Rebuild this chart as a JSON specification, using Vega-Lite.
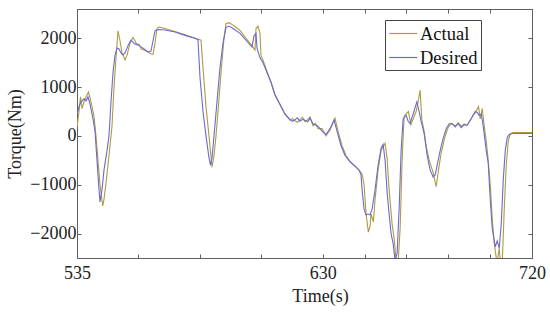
{
  "$schema": "https://vega.github.io/schema/vega-lite/v6.json",
  "width": 455,
  "height": 249,
  "autosize": {"type": "none"},
  "padding": {"left": 77, "top": 9, "right": 18, "bottom": 54},
  "background": "white",
  "config": {
    "view": {"stroke": "#5f5f5f", "strokeWidth": 1},
    "font": "Liberation Serif",
    "axis": {
      "grid": false,
      "domainColor": "#5f5f5f",
      "tickColor": "#5f5f5f",
      "labelFont": "Liberation Serif",
      "labelFontSize": 18,
      "labelColor": "#222222",
      "titleFont": "Liberation Serif",
      "titleFontSize": 18,
      "titleFontWeight": "normal",
      "titleColor": "#222222",
      "tickSize": -4
    }
  },
  "data": {"values": [
    {"s":"Actual","t":535.0,"v":180},{"s":"Actual","t":535.77,"v":500},{"s":"Actual","t":536.35,"v":800},{"s":"Actual","t":536.93,"v":560},{"s":"Actual","t":537.71,"v":700},{"s":"Actual","t":538.48,"v":800},{"s":"Actual","t":539.45,"v":900},{"s":"Actual","t":540.03,"v":780},{"s":"Actual","t":540.8,"v":600},{"s":"Actual","t":541.57,"v":400},{"s":"Actual","t":542.35,"v":0},{"s":"Actual","t":543.12,"v":-500},{"s":"Actual","t":543.89,"v":-1000},{"s":"Actual","t":544.94,"v":-1435},{"s":"Actual","t":545.44,"v":-1300},{"s":"Actual","t":546.48,"v":-840},{"s":"Actual","t":547.37,"v":-400},{"s":"Actual","t":548.15,"v":0},{"s":"Actual","t":548.53,"v":200},{"s":"Actual","t":549.31,"v":1000},{"s":"Actual","t":550.08,"v":1600},{"s":"Actual","t":550.85,"v":2150},{"s":"Actual","t":551.63,"v":1950},{"s":"Actual","t":552.4,"v":1700},{"s":"Actual","t":553.56,"v":1560},{"s":"Actual","t":554.33,"v":1650},{"s":"Actual","t":555.49,"v":1900},{"s":"Actual","t":556.65,"v":2020},{"s":"Actual","t":557.43,"v":1950},{"s":"Actual","t":558.2,"v":1860},{"s":"Actual","t":558.97,"v":1880},{"s":"Actual","t":559.75,"v":1780},{"s":"Actual","t":560.91,"v":1760},{"s":"Actual","t":562.45,"v":1720},{"s":"Actual","t":563.61,"v":1680},{"s":"Actual","t":564.39,"v":1670},{"s":"Actual","t":565.16,"v":1900},{"s":"Actual","t":565.93,"v":2200},{"s":"Actual","t":566.71,"v":2230},{"s":"Actual","t":569.03,"v":2200},{"s":"Actual","t":572.89,"v":2140},{"s":"Actual","t":576.76,"v":2070},{"s":"Actual","t":580.62,"v":2000},{"s":"Actual","t":582.94,"v":1960},{"s":"Actual","t":583.72,"v":1400},{"s":"Actual","t":584.88,"v":600},{"s":"Actual","t":586.04,"v":0},{"s":"Actual","t":587.2,"v":-640},{"s":"Actual","t":587.97,"v":-400},{"s":"Actual","t":588.74,"v":0},{"s":"Actual","t":589.52,"v":500},{"s":"Actual","t":590.68,"v":1300},{"s":"Actual","t":591.84,"v":2000},{"s":"Actual","t":592.61,"v":2300},{"s":"Actual","t":593.77,"v":2320},{"s":"Actual","t":595.32,"v":2270},{"s":"Actual","t":598.02,"v":2160},{"s":"Actual","t":600.34,"v":2000},{"s":"Actual","t":602.66,"v":1850},{"s":"Actual","t":603.82,"v":1760},{"s":"Actual","t":604.21,"v":2200},{"s":"Actual","t":604.98,"v":2250},{"s":"Actual","t":605.76,"v":2100},{"s":"Actual","t":606.14,"v":1650},{"s":"Actual","t":606.92,"v":1550},{"s":"Actual","t":608.46,"v":1320},{"s":"Actual","t":610.01,"v":1100},{"s":"Actual","t":611.56,"v":830},{"s":"Actual","t":613.49,"v":640},{"s":"Actual","t":615.42,"v":440},{"s":"Actual","t":617.36,"v":320},{"s":"Actual","t":618.3,"v":360},{"s":"Actual","t":619.29,"v":310},{"s":"Actual","t":620.3,"v":280},{"s":"Actual","t":621.22,"v":340},{"s":"Actual","t":622.2,"v":380},{"s":"Actual","t":623.16,"v":290},{"s":"Actual","t":624.1,"v":330},{"s":"Actual","t":625.09,"v":390},{"s":"Actual","t":626.25,"v":210},{"s":"Actual","t":627.2,"v":260},{"s":"Actual","t":628.18,"v":150},{"s":"Actual","t":629.73,"v":150},{"s":"Actual","t":631.42,"v":0},{"s":"Actual","t":633.14,"v":120},{"s":"Actual","t":635.3,"v":360},{"s":"Actual","t":636.59,"v":100},{"s":"Actual","t":638.31,"v":-200},{"s":"Actual","t":640.03,"v":-400},{"s":"Actual","t":641.76,"v":-520},{"s":"Actual","t":643.91,"v":-620},{"s":"Actual","t":645.63,"v":-700},{"s":"Actual","t":646.92,"v":-780},{"s":"Actual","t":647.79,"v":-1000},{"s":"Actual","t":648.65,"v":-1600},{"s":"Actual","t":649.64,"v":-1970},{"s":"Actual","t":650.37,"v":-1850},{"s":"Actual","t":650.8,"v":-1600},{"s":"Actual","t":651.79,"v":-1760},{"s":"Actual","t":652.52,"v":-1300},{"s":"Actual","t":653.81,"v":-700},{"s":"Actual","t":655.11,"v":-300},{"s":"Actual","t":656.83,"v":-150},{"s":"Actual","t":657.69,"v":-450},{"s":"Actual","t":658.55,"v":-1100},{"s":"Actual","t":659.84,"v":-1800},{"s":"Actual","t":660.7,"v":-2100},{"s":"Actual","t":661.56,"v":-2550},{"s":"Actual","t":662.43,"v":-2600},{"s":"Actual","t":663.29,"v":-1900},{"s":"Actual","t":664.15,"v":-500},{"s":"Actual","t":665.01,"v":400},{"s":"Actual","t":665.87,"v":450},{"s":"Actual","t":666.86,"v":500},{"s":"Actual","t":667.9,"v":230},{"s":"Actual","t":668.89,"v":350},{"s":"Actual","t":670.18,"v":500},{"s":"Actual","t":671.04,"v":700},{"s":"Actual","t":671.9,"v":940},{"s":"Actual","t":672.63,"v":330},{"s":"Actual","t":673.62,"v":100},{"s":"Actual","t":674.48,"v":-200},{"s":"Actual","t":675.78,"v":-500},{"s":"Actual","t":677.5,"v":-750},{"s":"Actual","t":678.79,"v":-1040},{"s":"Actual","t":679.78,"v":-700},{"s":"Actual","t":680.94,"v":-350},{"s":"Actual","t":682.67,"v":0},{"s":"Actual","t":684.09,"v":190},{"s":"Actual","t":685.55,"v":260},{"s":"Actual","t":686.97,"v":180},{"s":"Actual","t":688.26,"v":270},{"s":"Actual","t":689.56,"v":200},{"s":"Actual","t":690.85,"v":240},{"s":"Actual","t":692.14,"v":220},{"s":"Actual","t":693.43,"v":320},{"s":"Actual","t":694.72,"v":430},{"s":"Actual","t":695.58,"v":470},{"s":"Actual","t":697.01,"v":600},{"s":"Actual","t":697.74,"v":350},{"s":"Actual","t":698.6,"v":560},{"s":"Actual","t":699.46,"v":200},{"s":"Actual","t":700.32,"v":-100},{"s":"Actual","t":701.18,"v":-500},{"s":"Actual","t":702.05,"v":-1000},{"s":"Actual","t":702.91,"v":-1700},{"s":"Actual","t":703.77,"v":-2200},{"s":"Actual","t":704.93,"v":-2600},{"s":"Actual","t":705.92,"v":-2300},{"s":"Actual","t":706.35,"v":-2550},{"s":"Actual","t":707.21,"v":-2600},{"s":"Actual","t":708.07,"v":-1500},{"s":"Actual","t":708.93,"v":-600},{"s":"Actual","t":709.8,"v":-100},{"s":"Actual","t":710.66,"v":40},{"s":"Actual","t":711.95,"v":70},{"s":"Actual","t":714.96,"v":70},{"s":"Actual","t":720,"v":70},
    {"s":"Desired","t":535.0,"v":430},{"s":"Desired","t":535.77,"v":600},{"s":"Desired","t":536.55,"v":700},{"s":"Desired","t":537.71,"v":760},{"s":"Desired","t":538.48,"v":720},{"s":"Desired","t":539.25,"v":800},{"s":"Desired","t":540.03,"v":650},{"s":"Desired","t":541.19,"v":350},{"s":"Desired","t":541.96,"v":100},{"s":"Desired","t":542.73,"v":-500},{"s":"Desired","t":543.51,"v":-1100},{"s":"Desired","t":543.89,"v":-1350},{"s":"Desired","t":544.67,"v":-1100},{"s":"Desired","t":545.44,"v":-700},{"s":"Desired","t":546.6,"v":-300},{"s":"Desired","t":547.37,"v":0},{"s":"Desired","t":548.15,"v":700},{"s":"Desired","t":548.92,"v":1300},{"s":"Desired","t":549.69,"v":1650},{"s":"Desired","t":550.47,"v":1800},{"s":"Desired","t":551.24,"v":1780},{"s":"Desired","t":552.01,"v":1700},{"s":"Desired","t":552.79,"v":1660},{"s":"Desired","t":553.56,"v":1700},{"s":"Desired","t":554.72,"v":1850},{"s":"Desired","t":555.88,"v":1960},{"s":"Desired","t":556.65,"v":1920},{"s":"Desired","t":557.43,"v":1880},{"s":"Desired","t":558.2,"v":1880},{"s":"Desired","t":559.36,"v":1840},{"s":"Desired","t":560.91,"v":1780},{"s":"Desired","t":562.45,"v":1720},{"s":"Desired","t":563.61,"v":1740},{"s":"Desired","t":564.39,"v":1950},{"s":"Desired","t":565.16,"v":2150},{"s":"Desired","t":566.32,"v":2180},{"s":"Desired","t":569.03,"v":2170},{"s":"Desired","t":572.89,"v":2130},{"s":"Desired","t":576.76,"v":2060},{"s":"Desired","t":580.62,"v":2000},{"s":"Desired","t":581.78,"v":1970},{"s":"Desired","t":582.56,"v":1200},{"s":"Desired","t":583.72,"v":500},{"s":"Desired","t":584.88,"v":0},{"s":"Desired","t":586.04,"v":-450},{"s":"Desired","t":586.62,"v":-600},{"s":"Desired","t":587.2,"v":-450},{"s":"Desired","t":587.97,"v":0},{"s":"Desired","t":589.13,"v":700},{"s":"Desired","t":590.29,"v":1400},{"s":"Desired","t":591.45,"v":1900},{"s":"Desired","t":592.61,"v":2220},{"s":"Desired","t":593.77,"v":2250},{"s":"Desired","t":595.32,"v":2200},{"s":"Desired","t":598.02,"v":2100},{"s":"Desired","t":600.34,"v":1960},{"s":"Desired","t":602.66,"v":1820},{"s":"Desired","t":603.44,"v":2050},{"s":"Desired","t":604.21,"v":2100},{"s":"Desired","t":604.6,"v":1800},{"s":"Desired","t":605.76,"v":1600},{"s":"Desired","t":606.92,"v":1500},{"s":"Desired","t":608.46,"v":1300},{"s":"Desired","t":610.01,"v":1100},{"s":"Desired","t":611.56,"v":850},{"s":"Desired","t":613.49,"v":650},{"s":"Desired","t":615.42,"v":450},{"s":"Desired","t":617.36,"v":340},{"s":"Desired","t":618.4,"v":300},{"s":"Desired","t":619.29,"v":330},{"s":"Desired","t":620.2,"v":370},{"s":"Desired","t":621.22,"v":300},{"s":"Desired","t":622.3,"v":340},{"s":"Desired","t":623.16,"v":320},{"s":"Desired","t":624.2,"v":290},{"s":"Desired","t":625.09,"v":360},{"s":"Desired","t":626.25,"v":250},{"s":"Desired","t":627.3,"v":220},{"s":"Desired","t":628.18,"v":200},{"s":"Desired","t":629.73,"v":100},{"s":"Desired","t":631.42,"v":30},{"s":"Desired","t":633.14,"v":150},{"s":"Desired","t":634.87,"v":330},{"s":"Desired","t":636.16,"v":100},{"s":"Desired","t":637.88,"v":-200},{"s":"Desired","t":639.6,"v":-400},{"s":"Desired","t":641.76,"v":-530},{"s":"Desired","t":643.91,"v":-620},{"s":"Desired","t":645.63,"v":-700},{"s":"Desired","t":646.49,"v":-800},{"s":"Desired","t":646.92,"v":-1100},{"s":"Desired","t":647.79,"v":-1500},{"s":"Desired","t":648.65,"v":-1620},{"s":"Desired","t":649.51,"v":-1600},{"s":"Desired","t":650.37,"v":-1620},{"s":"Desired","t":651.23,"v":-1500},{"s":"Desired","t":652.52,"v":-1100},{"s":"Desired","t":653.81,"v":-600},{"s":"Desired","t":655.11,"v":-250},{"s":"Desired","t":655.97,"v":-170},{"s":"Desired","t":656.83,"v":-500},{"s":"Desired","t":657.69,"v":-1150},{"s":"Desired","t":658.55,"v":-1600},{"s":"Desired","t":659.41,"v":-2000},{"s":"Desired","t":660.27,"v":-2200},{"s":"Desired","t":661.13,"v":-2550},{"s":"Desired","t":662.0,"v":-2400},{"s":"Desired","t":662.86,"v":-1500},{"s":"Desired","t":663.72,"v":-300},{"s":"Desired","t":664.58,"v":350},{"s":"Desired","t":665.87,"v":420},{"s":"Desired","t":666.73,"v":300},{"s":"Desired","t":667.59,"v":250},{"s":"Desired","t":668.89,"v":450},{"s":"Desired","t":670.48,"v":700},{"s":"Desired","t":671.47,"v":500},{"s":"Desired","t":672.33,"v":300},{"s":"Desired","t":673.62,"v":50},{"s":"Desired","t":674.91,"v":-400},{"s":"Desired","t":676.21,"v":-700},{"s":"Desired","t":677.5,"v":-840},{"s":"Desired","t":678.36,"v":-800},{"s":"Desired","t":679.22,"v":-600},{"s":"Desired","t":680.51,"v":-300},{"s":"Desired","t":681.8,"v":-50},{"s":"Desired","t":683.1,"v":150},{"s":"Desired","t":684.39,"v":250},{"s":"Desired","t":685.68,"v":250},{"s":"Desired","t":686.97,"v":200},{"s":"Desired","t":688.26,"v":250},{"s":"Desired","t":689.56,"v":170},{"s":"Desired","t":690.85,"v":230},{"s":"Desired","t":692.14,"v":220},{"s":"Desired","t":693.43,"v":320},{"s":"Desired","t":694.72,"v":420},{"s":"Desired","t":695.58,"v":500},{"s":"Desired","t":696.45,"v":480},{"s":"Desired","t":697.31,"v":420},{"s":"Desired","t":698.17,"v":450},{"s":"Desired","t":699.03,"v":200},{"s":"Desired","t":700.32,"v":-300},{"s":"Desired","t":701.18,"v":-560},{"s":"Desired","t":702.05,"v":-1300},{"s":"Desired","t":702.91,"v":-1900},{"s":"Desired","t":703.77,"v":-2150},{"s":"Desired","t":704.2,"v":-2270},{"s":"Desired","t":705.06,"v":-2150},{"s":"Desired","t":705.92,"v":-2300},{"s":"Desired","t":706.78,"v":-1800},{"s":"Desired","t":707.64,"v":-900},{"s":"Desired","t":708.5,"v":-300},{"s":"Desired","t":709.36,"v":-30},{"s":"Desired","t":710.23,"v":30},{"s":"Desired","t":711.52,"v":50},{"s":"Desired","t":714.96,"v":50},{"s":"Desired","t":720,"v":50}
  ]},
  "layer": [
    {
      "mark": {"type": "line", "strokeWidth": 1.1, "clip": true},
      "encoding": {
        "x": {
          "field": "t", "type": "quantitative",
          "scale": {"domain": [535, 630, 720], "range": [0, 245.7, 455], "nice": false, "zero": false},
          "axis": {
            "orient": "bottom",
            "values": [535, 558.75, 582.5, 606.25, 630, 648, 666, 684, 702, 720],
            "format": "d",
            "labelExpr": "(datum.value == 535 || datum.value == 630 || datum.value == 720) ? datum.label : ''",
            "labelFlush": false,
            "labelOverlap": false,
            "labelPadding": 10,
            "title": "Time(s)",
            "titleX": 243,
            "titleY": 43,
            "titleBaseline": "alphabetic"
          }
        },
        "y": {
          "field": "v", "type": "quantitative",
          "scale": {"domain": [-2500, 2600], "nice": false, "zero": false},
          "axis": {
            "orient": "left",
            "values": [-2000, -1000, 0, 1000, 2000],
            "format": "d",
            "labelPadding": 5,
            "title": "Torque(Nm)",
            "titleX": -57,
            "titleY": 124.5,
            "titleBaseline": "alphabetic"
          }
        },
        "color": {
          "field": "s", "type": "nominal",
          "scale": {"domain": ["Actual", "Desired"], "range": ["#AE9A45", "#6A6ACF"]},
          "legend": {
            "orient": "none",
            "legendX": 308,
            "legendY": 11,
            "title": null,
            "strokeColor": "#444444",
            "fillColor": "white",
            "padding": 3,
            "symbolType": "M-0.97,0H1.95",
            "symbolSize": 369,
            "symbolStrokeWidth": 1.2,
            "labelFont": "Liberation Serif",
            "labelFontSize": 18.5,
            "labelColor": "#111111",
            "labelOffset": 11,
            "rowPadding": 4
          }
        }
      }
    },
    {
      "mark": {"type": "line", "opacity": 0},
      "encoding": {
        "x": {
          "field": "t", "type": "quantitative",
          "axis": {"orient": "top", "values": [535, 558.75, 582.5, 606.25, 630, 648, 666, 684, 702, 720], "labels": false, "title": null}
        },
        "y": {
          "field": "v", "type": "quantitative",
          "axis": {"orient": "right", "values": [-2000, -1000, 0, 1000, 2000], "labels": false, "title": null}
        }
      }
    }
  ],
  "resolve": {"axis": {"x": "independent", "y": "independent"}}
}
